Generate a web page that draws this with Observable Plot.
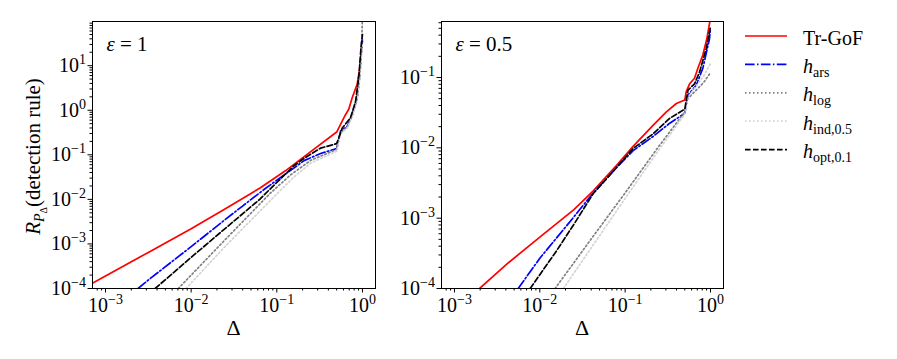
<!DOCTYPE html>
<html><head><meta charset="utf-8">
<script src="https://cdn.jsdelivr.net/npm/d3@7"></script>
<script src="https://cdn.jsdelivr.net/npm/@observablehq/plot@0.6"></script>
<style>
body{margin:0;background:#fff;}
#wrap{position:relative;width:897px;height:359px;overflow:hidden;font-family:"Liberation Serif",serif;}
#wrap svg{position:absolute;top:0;}
#wrap svg text{font-family:"Liberation Serif",serif;}
</style></head><body><div id="wrap"></div>
<script>
// ---------- data ----------
const seriesNames = ["Tr-GoF", "h_ars", "h_log", "h_ind,0.5", "h_opt,0.1"];

// panel ε = 1
const e1_trgof_delta = [6.92e-4, 1e-3, 3.16e-3, 0.01, 0.0251, 0.0631, 0.126, 0.251, 0.5, 0.555, 0.634, 0.692, 0.759, 0.867, 0.931, 0.973, 1];
const e1_trgof_R     = [1.29e-4, 1.91e-4, 6.46e-4, 2.19e-3, 6.17e-3, 0.0178, 0.0437, 0.119, 0.324, 0.479, 0.794, 1.05, 1.91, 3.80, 8.91, 21.4, 35.5];
const e1_ars_delta = [2.40e-3, 3.16e-3, 6.31e-3, 0.01, 0.0251, 0.0398, 0.0708, 0.1, 0.158, 0.208, 0.324, 0.5, 0.555, 0.664, 0.759, 0.867, 0.931, 0.973, 1];
const e1_ars_R     = [1e-4, 1.55e-4, 4.37e-4, 8.71e-4, 3.55e-3, 7.08e-3, 0.0166, 0.0269, 0.0501, 0.0741, 0.107, 0.138, 0.339, 0.437, 0.794, 1.91, 6.31, 22.4, 41.7];
const e1_log_delta = [7.08e-3, 0.0251, 0.0841, 0.145, 0.251, 0.5, 0.555, 0.664, 0.759, 0.867, 0.931, 0.973, 1];
const e1_log_R     = [1e-4, 1.26e-3, 0.0138, 0.0355, 0.0759, 0.132, 0.316, 0.417, 0.759, 1.78, 5.62, 20.0, 126];
const e1_ind_delta = [8.71e-3, 0.0251, 0.1, 0.158, 0.251, 0.5, 0.555, 0.664, 0.759, 0.867, 0.931, 1];
const e1_ind_R     = [1e-4, 8.91e-4, 0.0132, 0.0316, 0.0661, 0.120, 0.302, 0.398, 0.724, 1.66, 5.01, 31.6];
const e1_opt_delta = [3.80e-3, 0.01, 0.0251, 0.0631, 0.1, 0.158, 0.208, 0.324, 0.5, 0.581, 0.724, 0.832, 0.912, 0.966, 1];
const e1_opt_R     = [1e-4, 5.01e-4, 2.24e-3, 0.01, 0.0240, 0.0562, 0.0832, 0.141, 0.178, 0.398, 0.676, 1.585, 6.31, 28.2, 50.1];

// panel ε = 0.5
const e05_trgof_delta = [1.97e-3, 4.13e-3, 0.01, 0.0251, 0.0423, 0.0794, 0.124, 0.212, 0.304, 0.398, 0.5, 0.52, 0.569, 0.650, 0.711, 0.813, 0.906, 1];
const e05_trgof_R     = [1e-4, 2.24e-4, 5.37e-4, 1.32e-3, 2.45e-3, 5.62e-3, 0.0105, 0.0209, 0.0324, 0.0427, 0.0479, 0.0631, 0.0813, 0.0977, 0.135, 0.209, 0.355, 0.708];
const e05_ars_delta = [5.58e-3, 0.01, 0.0247, 0.0386, 0.0794, 0.124, 0.212, 0.333, 0.5, 0.545, 0.681, 0.813, 0.973, 1];
const e05_ars_R     = [1e-4, 2.69e-4, 1.02e-3, 2.00e-3, 5.25e-3, 9.12e-3, 0.0145, 0.0224, 0.0309, 0.0562, 0.0776, 0.135, 0.355, 0.501];
const e05_log_delta = [0.0151, 0.0398, 0.1, 0.251, 0.5, 0.545, 0.681, 0.832, 1];
const e05_log_R     = [1e-4, 5.01e-4, 2.29e-3, 0.0107, 0.0324, 0.0501, 0.0661, 0.0851, 0.117];
const e05_ind_delta = [0.0189, 0.0423, 0.1, 0.251, 0.5, 0.545, 0.681, 0.832, 1];
const e05_ind_R     = [1e-4, 4.17e-4, 1.91e-3, 9.55e-3, 0.0302, 0.0525, 0.0759, 0.105, 0.158];
const e05_opt_delta = [7.71e-3, 0.0158, 0.0247, 0.0423, 0.0794, 0.124, 0.212, 0.333, 0.5, 0.545, 0.650, 0.745, 0.891, 0.973, 1];
const e05_opt_R     = [1e-4, 3.47e-4, 7.94e-4, 2.24e-3, 5.25e-3, 9.77e-3, 0.0158, 0.0263, 0.0355, 0.0661, 0.0813, 0.120, 0.257, 0.447, 0.525];

// axes
const xDomain = [7.05e-4, 1.42];
const yDomainE1 = [1e-4, 98];
const yDomainE05 = [1e-4, 0.625];
const xMajor = [1e-3, 1e-2, 1e-1, 1];
const yMajorE1 = [1e-4, 1e-3, 1e-2, 1e-1, 1, 10];
const yMajorE05 = [1e-4, 1e-3, 1e-2, 1e-1];
const panelLabels = ["ε = 1", "ε = 0.5"];

// ---------- drawing ----------
const FONT = '"Liberation Serif", serif';
const styles = [
  {stroke: "#ff0000"},
  {stroke: "#0000ff", strokeDasharray: "9.6,2.4,1.5,2.4"},
  {stroke: "#808080", strokeDasharray: "1.5,2.5"},
  {stroke: "#d3d3d3", strokeDasharray: "1.5,2.5"},
  {stroke: "#000000", strokeDasharray: "5.6,2.4"}
];
const rows = (d, r) => d.map((v, i) => ({delta: v, R: r[i]}));
function minorTicks([lo, hi]) {
  const out = [];
  for (let k = -5; k <= 2; k++) for (let m = 2; m <= 9; m++) {
    const v = m * Math.pow(10, k);
    if (v >= lo && v <= hi) out.push(v);
  }
  return out;
}
const fmtPow = d => "10|" + Math.round(Math.log10(d));

function panel({series, yDomain, yMajor, label, width, marginLeft, marginRight}) {
  const lineMarks = series.map((s, i) => Plot.line(s, {x: "delta", y: "R", strokeWidth: 1.7, clip: true, ...styles[i]}));
  return Plot.plot({
    width, height: 359,
    marginLeft, marginRight, marginTop: 21, marginBottom: 71,
    x: {type: "log", domain: xDomain, label: null},
    y: {type: "log", domain: yDomain, label: null},
    style: 'font-family: "Liberation Serif", serif; font-size: 20px; background: transparent; overflow: visible; color: black;',
    marks: [
      ...lineMarks,
      Plot.axisX(minorTicks(xDomain), {tickSize: 2.5, tickFormat: () => "", label: null}),
      Plot.axisX(xMajor, {tickSize: 4.5, tickPadding: 5, tickFormat: fmtPow, label: null, fontSize: 20}),
      Plot.axisY(minorTicks(yDomain), {tickSize: 2.5, tickFormat: () => "", label: null}),
      Plot.axisY(yMajor, {tickSize: 4.5, tickPadding: 2, tickFormat: fmtPow, label: null, fontSize: 20}),
      Plot.frame({stroke: "black", strokeWidth: 1}),
      Plot.text([label], {frameAnchor: "top-left", dx: 14, dy: 22.5, lineAnchor: "middle", fontSize: 21})
    ]
  });
}

const SVGNS = "http://www.w3.org/2000/svg";
function fixTexts(svg) {
  svg.setAttribute("font-family", FONT);
  svg.querySelectorAll("text").forEach(t => {
    t.setAttribute("font-family", FONT);
    const s = t.textContent;
    if (s.includes("|")) {
      const [base, exp] = s.split("|");
      t.textContent = base;
      const ts = document.createElementNS(SVGNS, "tspan");
      ts.setAttribute("dy", "-8");
      ts.setAttribute("font-size", "14");
      ts.textContent = exp.replace("-", "\u2212");
      t.appendChild(ts);
    } else if (s.startsWith("ε")) {
      t.textContent = "";
      const a = document.createElementNS(SVGNS, "tspan");
      a.setAttribute("font-style", "italic");
      a.textContent = "ε";
      t.appendChild(a);
      t.appendChild(document.createTextNode(s.slice(1)));
    }
  });
}

const wrap = document.getElementById("wrap");

const left = panel({
  series: [rows(e1_trgof_delta, e1_trgof_R), rows(e1_ars_delta, e1_ars_R), rows(e1_log_delta, e1_log_R), rows(e1_ind_delta, e1_ind_R), rows(e1_opt_delta, e1_opt_R)],
  yDomain: yDomainE1, yMajor: yMajorE1, label: panelLabels[0], width: 390, marginLeft: 92, marginRight: 15
});
left.style.left = "0px";
fixTexts(left);
wrap.appendChild(left);

const right = panel({
  series: [rows(e05_trgof_delta, e05_trgof_R), rows(e05_ars_delta, e05_ars_R), rows(e05_log_delta, e05_log_R), rows(e05_ind_delta, e05_ind_R), rows(e05_opt_delta, e05_opt_R)],
  yDomain: yDomainE05, yMajor: yMajorE05, label: panelLabels[1], width: 345, marginLeft: 51, marginRight: 12
});
right.style.left = "390px";
fixTexts(right);
wrap.appendChild(right);

// axis titles
[[left, 233.5], [right, 192]].forEach(([svg, cx]) => {
  d3.select(svg).append("text").attr("x", cx).attr("y", 334.5).attr("text-anchor", "middle")
    .attr("font-family", FONT).attr("font-size", 22).attr("fill", "black").text("Δ");
});
const yl = d3.select(left).append("text").attr("transform", "translate(40,156.5) rotate(-90)")
  .attr("text-anchor", "middle").attr("font-family", FONT).attr("font-size", 21).attr("fill", "black");
yl.append("tspan").attr("font-style", "italic").text("R");
yl.append("tspan").attr("font-style", "italic").attr("font-size", 14).attr("dy", 4).text("P");
yl.append("tspan").attr("font-size", 10).attr("dy", 3).text("Δ");
yl.append("tspan").attr("dy", -7).text("(detection rule)");

// legend
const leg = d3.select(wrap).append("svg").attr("width", 162).attr("height", 200)
  .style("left", "735px").style("top", "0px")
  .attr("font-family", FONT).attr("font-size", 20);
const subs = [null, "ars", "log", "ind,0.5", "opt,0.1"];
seriesNames.forEach((name, i) => {
  const cy = 36 + i * 28.4;
  const st = styles[i];
  leg.append("line").attr("x1", 10).attr("x2", 52).attr("y1", cy).attr("y2", cy)
    .attr("stroke", st.stroke).attr("stroke-width", 1.7)
    .attr("stroke-dasharray", st.strokeDasharray || null);
  const t = leg.append("text").attr("x", 68).attr("y", cy + 8.5).attr("fill", "black");
  if (subs[i] === null) t.text(name);
  else {
    t.append("tspan").attr("font-style", "italic").text("h");
    t.append("tspan").attr("font-size", 14).attr("dy", 4).text(subs[i]);
  }
});
</script></body></html>
